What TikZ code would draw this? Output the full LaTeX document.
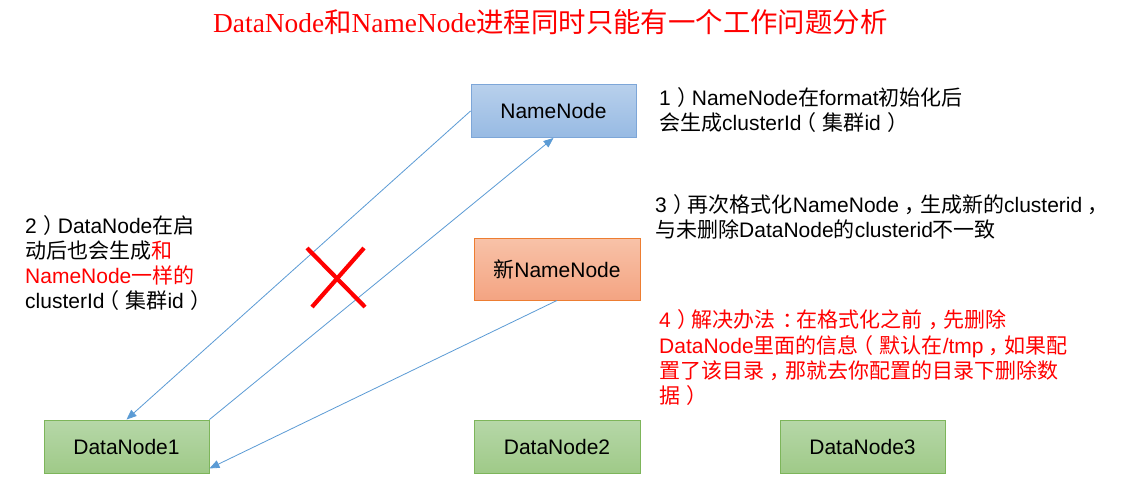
\documentclass[tikz,border=0pt]{standalone}
\usepackage{fontspec}
\setmainfont{Liberation Sans}
\newfontfamily\zh{Noto Sans CJK SC}
\newfontfamily\tsf{Liberation Serif}
\usetikzlibrary{arrows.meta}
\definecolor{lnblue}{HTML}{5B9BD5}
\definecolor{bluetop}{HTML}{B8D0EC}
\definecolor{bluebot}{HTML}{97BAE3}
\definecolor{blueedge}{HTML}{7DA6D8}
\definecolor{orgtop}{HTML}{F8C2A8}
\definecolor{orgbot}{HTML}{F4A482}
\definecolor{orgedge}{HTML}{ED7D31}
\definecolor{grntop}{HTML}{B6D7A8}
\definecolor{grnbot}{HTML}{9FCA88}
\definecolor{grnedge}{HTML}{7DB55A}
\definecolor{myred}{HTML}{FF0000}
% centred full-width punctuation
\newcommand\zrp{\kern0.3em{\zh ）}\kern-0.3em}
\newcommand\zlp{\kern-0.3em{\zh （}\kern0.3em}
\newcommand\zcm{\kern0.25em{\zh ，}\kern-0.25em}
\newcommand\zcl{\kern0.3em{\zh ：}\kern-0.3em}
\tikzset{
  boxbase/.style={draw, inner sep=0pt, line width=0.9pt, font=\fontsize{21}{25}\selectfont, text=black},
  bluebox/.style={boxbase, draw=blueedge, top color=bluetop, bottom color=bluebot},
  orgbox/.style={boxbase, draw=orgedge, top color=orgtop, bottom color=orgbot},
  grnbox/.style={boxbase, draw=grnedge, top color=grntop, bottom color=grnbot},
  txt/.style={anchor=base west, inner sep=0pt, font=\fontsize{21}{25}\selectfont, text=black},
  redtxt/.style={txt, text=myred},
  conn/.style={draw=lnblue, line width=0.8pt, -{Triangle[length=10pt,width=8pt]}},
  cross/.style={draw=myred, line width=4.2pt}
}
\begin{document}
\begin{tikzpicture}[x=1pt,y=-1pt]
\useasboundingbox[fill=white] (0,0) rectangle (1127,503);

% title
\node[anchor=base west, inner sep=0pt, text=myred, font=\fontsize{27.4}{30}\selectfont\tsf] (title) at (213,33)
  {DataNode{\zh 和}NameNode{\zh 进程同时只能有一个工作问题分析}};

% boxes
\node[bluebox, minimum width=165pt, minimum height=53pt] (nn) at (553.5,111) {NameNode};
\node[orgbox, minimum width=166pt, minimum height=62pt] (nnew) at (557,269) {{\zh 新}NameNode};
\node[grnbox, minimum width=165pt, minimum height=53pt] (dn1) at (126.5,446.5) {DataNode1};
\node[grnbox, minimum width=166pt, minimum height=53pt] (dn2) at (557,446.5) {DataNode2};
\node[grnbox, minimum width=165pt, minimum height=53pt] (dn3) at (862.5,446.5) {DataNode3};

% connectors
\draw[conn] (nn.west) -- (dn1.north);
\draw[conn] (dn1.north east) -- (nn.south);
\draw[conn] (nnew.south) -- ([yshift=5pt]dn1.south east);

% red cross
\coordinate (xa) at (307,248);
\coordinate (xb) at (365,307);
\coordinate (xc) at (364,248);
\coordinate (xd) at (312,307);
\draw[cross] (xa) -- (xb);
\draw[cross] (xc) -- (xd);

% text 1
\node[txt] (t1a) at (659,105) {1\zrp NameNode{\zh 在}format{\zh 初始化后}};
\node[txt] (t1b) at (659,130) {{\zh 会生成}clusterId\zlp{\zh 集群}id\zrp};

% text 2
\node[txt] (t2a) at (25,233) {2\zrp DataNode{\zh 在启}};
\node[txt] (t2b) at (25,258) {{\zh 动后也会生成}\textcolor{myred}{\zh 和}};
\node[redtxt] (t2c) at (25,283) {NameNode{\zh 一样的}};
\node[txt] (t2d) at (25,308) {clusterId\zlp{\zh 集群}id\zrp};

% text 3
\node[txt] (t3a) at (655,212) {3\zrp{\zh 再次格式化}NameNode\zcm{\zh 生成新的}clusterid\zcm};
\node[txt] (t3b) at (655,237) {{\zh 与未删除}DataNode{\zh 的}clusterid{\zh 不一致}};

% text 4
\node[redtxt] (t4a) at (659,327) {4\zrp{\zh 解决办法}\zcl{\zh 在格式化之前}\zcm{\zh 先删除}};
\node[redtxt] (t4b) at (659,353) {DataNode{\zh 里面的信息}\zlp{\zh 默认在}/tmp\zcm{\zh 如果配}};
\node[redtxt] (t4c) at (659,378) {{\zh 置了该目录}\zcm{\zh 那就去你配置的目录下删除数}};
\node[redtxt] (t4d) at (659,403) {{\zh 据}\zrp};
\end{tikzpicture}
\end{document}
